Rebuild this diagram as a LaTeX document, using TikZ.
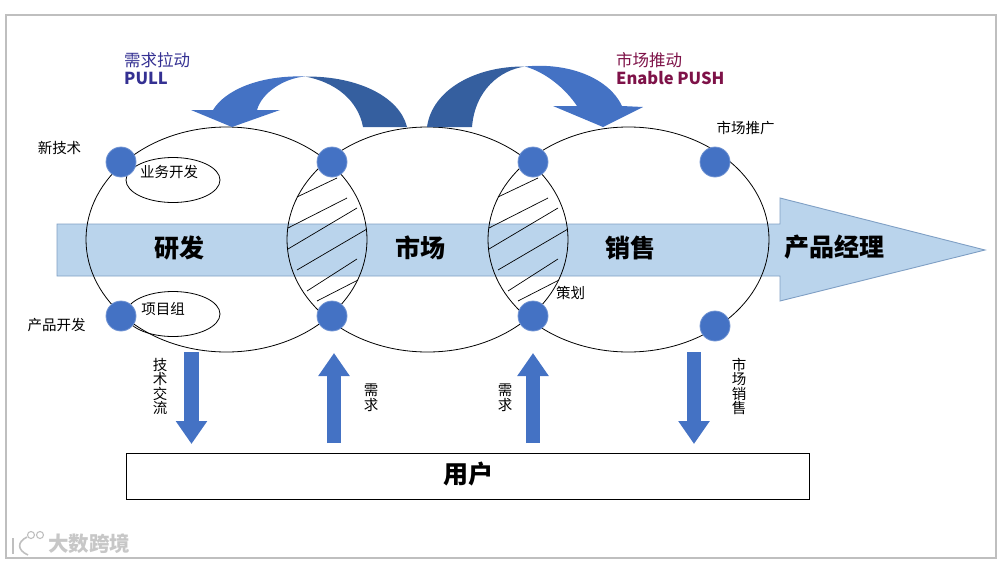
\documentclass[tikz,border=0pt]{standalone}
\usepackage{fontspec}
\setmainfont{Noto Sans CJK SC}
\usepackage{xcolor}
\usetikzlibrary{positioning,arrows.meta,shapes.geometric}
\definecolor{dotblue}{HTML}{4472C4}
\definecolor{darkblue}{HTML}{355F9F}
\definecolor{bandblue}{HTML}{BAD4EC}
\definecolor{bandedge}{HTML}{7F9FC4}
\definecolor{pullblue}{HTML}{343092}
\definecolor{pushred}{HTML}{7E1248}
\definecolor{framegray}{HTML}{BFBFBF}
\newcommand{\smalltxt}{\fontsize{14.5}{14.6}\selectfont}
\newcommand{\bigtxt}{\fontsize{25}{26}\selectfont\bfseries}
\newcommand{\headtxt}{\fontsize{16.5}{18}\selectfont}

\begin{document}
\begin{tikzpicture}[
x=1pt, y=-1pt,
loop/.style={draw, ellipse, line width=0.8pt, minimum width=281pt, minimum height=225pt, inner sep=0pt},
team/.style={draw, ellipse, line width=0.8pt, minimum width=94pt, minimum height=45pt, inner sep=0pt},
dot/.style={circle, fill=dotblue, draw=dotblue!75!white, line width=0.8pt, minimum size=30pt, inner sep=0pt},
label/.style={inner sep=0pt, font=\smalltxt, align=center},
biglabel/.style={inner sep=0pt, font=\bigtxt},
hatch/.style={line width=0.7pt},
flow/.style={line width=14.5pt, draw=dotblue, -{Triangle[length=23pt, width=30pt, fill=dotblue]}},
logo/.style={draw=black!25, line width=1.6pt}
]
\useasboundingbox (0,0) rectangle (1001,563);
\draw[framegray, line width=1.6pt] (6,15) rectangle (996,558);

\draw[fill=bandblue, draw=bandedge, line width=0.9pt] (57,224) -- (780,224) -- (780,198) -- (985,250) -- (780,301) -- (780,276) -- (57,276) -- cycle;

\node[loop] (rd) at (226.5,239.5) {};
\node[loop] (mkt) at (427.5,239.5) {};
\node[loop] (sales) at (628.5,239.5) {};
\node[team] (bizdev) at (173,180) {};
\node[team] (project) at (173,314) {};

\foreach \dx in {0,201} {
  \draw[hatch] (297+\dx,197) -- (337+\dx,178);
  \draw[hatch] (288+\dx,228) -- (347+\dx,198);
  \draw[hatch] (288+\dx,249) -- (357+\dx,208);
  \draw[hatch] (297+\dx,270) -- (367+\dx,229);
  \draw[hatch] (307+\dx,291) -- (357+\dx,259);
  \draw[hatch] (317+\dx,301) -- (358+\dx,280);
}

\node[dot] (newtech) at (121,162) {};
\node[dot] (mkttop) at (332,162) {};
\node[dot] (salestop) at (533,162) {};
\node[dot] (promo) at (715,162) {};
\node[dot] (proddev) at (121,316) {};
\node[dot] (mktlow) at (332,316) {};
\node[dot] (plan) at (533,316) {};
\node[dot] (sell) at (715,326) {};

\fill[darkblue] (407,127) .. controls (400,98) and (360,76) .. (305,76.5) .. controls (335,82) and (358,100) .. (363,127) -- cycle;
\fill[dotblue] (305,76.5) .. controls (260,75) and (225,90) .. (213,110) -- (191,110) -- (232,127) -- (280,110) -- (257,110) .. controls (262,92) and (285,78) .. (305,76.5) -- cycle;
\fill[darkblue] (427,127) .. controls (432,90) and (475,66) .. (525,66.5) .. controls (500,70) and (475,90) .. (472,127) -- cycle;
\fill[dotblue] (525,66.5) .. controls (572,62) and (610,80) .. (622,106) -- (643,107) -- (603,127) -- (553,106) -- (577,106) .. controls (565,88) and (545,72) .. (525,66.5) -- cycle;

\node[draw, line width=0.9pt, minimum width=683pt, minimum height=46pt, inner sep=0pt] (user) at (467.5,476) {};
\node[biglabel] (usertxt) at (468,474) {用户};

\coordinate (techtop) at (191.5,352);
\coordinate (techend) at (191.5,444);
\coordinate (needafrom) at (334,443);
\coordinate (needato) at (334,353);
\coordinate (needbfrom) at (533,443);
\coordinate (needbto) at (533,353);
\coordinate (selltop) at (694,352);
\coordinate (sellend) at (694,444);
\draw[flow] (techtop) -- (techend);
\draw[flow] (needafrom) -- (needato);
\draw[flow] (needbfrom) -- (needbto);
\draw[flow] (selltop) -- (sellend);

\node[biglabel] (rdtxt) at (179,248) {研发};
\node[biglabel] (mkttxt) at (420,248) {市场};
\node[biglabel] (salestxt) at (630,248) {销售};
\node[biglabel] (pmtxt) at (834,247) {产品经理};

\node[label] (newtechtxt) at (59.5,148) {新技术};
\node[label] (bizdevtxt) at (169,172) {业务开发};
\node[label] (projecttxt) at (163,309) {项目组};
\node[label] (proddevtxt) at (56.5,325) {产品开发};
\node[label] (promotxt) at (745.5,128) {市场推广};
\node[label] (plantxt) at (570.5,293) {策划};
\node[label] (techtxt) at (160,386.5) {技\\术\\交\\流};
\node[label] (needatxt) at (371,397.5) {需\\求};
\node[label] (needbtxt) at (505,397.5) {需\\求};
\node[label] (selltxt) at (739,386.5) {市\\场\\销\\售};

\node[anchor=west, inner sep=0pt, font=\headtxt, text=pullblue] (pullcn) at (124,60) {需求拉动};
\node[anchor=west, inner sep=0pt, font=\headtxt\bfseries, text=pullblue] (pullen) at (124,78) {PULL};
\node[anchor=west, inner sep=0pt, font=\headtxt, text=pushred] (pushcn) at (616,60) {市场推动};
\node[anchor=west, inner sep=0pt, font=\headtxt\bfseries, text=pushred] (pushen) at (616,78) {Enable PUSH};

\draw[logo] (13,538) -- (13,554);
\draw[logo] (27,537) .. controls (17,542) and (17,550) .. (28,555);
\draw[logo, line width=1.1pt] (31,535) circle (3.5pt);
\draw[logo, line width=1.1pt] (40,535) circle (3.5pt);
\node[anchor=west, inner sep=0pt, font=\fontsize{20.5}{22}\selectfont\bfseries, text=black!22] (mark) at (48,544) {大数跨境};
\end{tikzpicture}
\end{document}
